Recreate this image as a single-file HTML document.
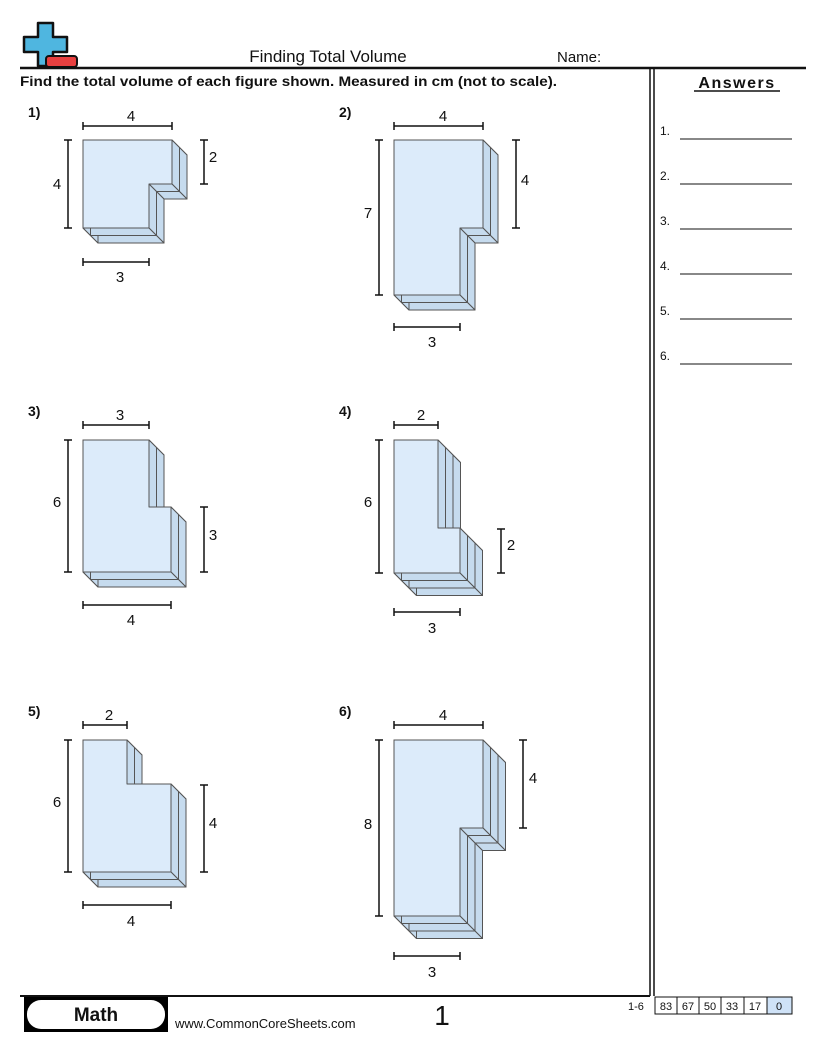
<!DOCTYPE html>
<html><head><meta charset="utf-8"><style>
body{margin:0;background:#fff;}
svg{display:block;}
text{font-family:"Liberation Sans",sans-serif;fill:#111;}
</style></head><body>
<svg id="s" width="816" height="1056" viewBox="0 0 816 1056" xmlns="http://www.w3.org/2000/svg">
<!-- logo -->
<path d="M38,23 h15 v14 h14 v15 h-14 v14 h-15 v-14 h-14 v-15 h14 z" fill="#4fb6e0" stroke="#111" stroke-width="2.5" stroke-linejoin="round"/>
<rect x="46" y="56" width="31" height="11" rx="3" fill="#e84040" stroke="#111" stroke-width="2"/>
<text x="328" y="62" font-size="17" text-anchor="middle" fill="#222">Finding Total Volume</text>
<text x="557" y="62" font-size="15">Name:</text>
<line x1="20" y1="68" x2="806" y2="68" stroke="#111" stroke-width="2.5"/>
<line x1="650" y1="68" x2="650" y2="996" stroke="#111" stroke-width="1.5"/>
<line x1="654" y1="68" x2="654" y2="996" stroke="#111" stroke-width="1.5"/>
<text x="20" y="86" font-size="14" font-weight="bold" textLength="537" lengthAdjust="spacingAndGlyphs">Find the total volume of each figure shown. Measured in cm (not to scale).</text>
<text x="737" y="88" font-size="16" font-weight="bold" text-anchor="middle" letter-spacing="1.5">Answers</text>
<line x1="694" y1="91" x2="780" y2="91" stroke="#111" stroke-width="1.5"/>
<g font-size="12">
<text x="660" y="135">1.</text><line x1="680" y1="139" x2="792" y2="139" stroke="#111"/>
<text x="660" y="180">2.</text><line x1="680" y1="184" x2="792" y2="184" stroke="#111"/>
<text x="660" y="225">3.</text><line x1="680" y1="229" x2="792" y2="229" stroke="#111"/>
<text x="660" y="270">4.</text><line x1="680" y1="274" x2="792" y2="274" stroke="#111"/>
<text x="660" y="315">5.</text><line x1="680" y1="319" x2="792" y2="319" stroke="#111"/>
<text x="660" y="360">6.</text><line x1="680" y1="364" x2="792" y2="364" stroke="#111"/>
</g>
<g font-size="14" font-weight="bold">
<text x="28" y="117">1)</text><text x="339" y="117">2)</text>
<text x="28" y="416">3)</text><text x="339" y="416">4)</text>
<text x="28" y="716">5)</text><text x="339" y="716">6)</text>
</g>
<g id="shapes"></g>
<g stroke="#111" stroke-width="1.5" fill="none" id="dims"></g>
<g font-size="15" text-anchor="middle">
<text x="131" y="121">4</text><text x="57" y="189">4</text><text x="213" y="162">2</text><text x="120" y="282">3</text>
<text x="443" y="121">4</text><text x="368" y="218">7</text><text x="525" y="185">4</text><text x="432" y="347">3</text>
<text x="120" y="420">3</text><text x="57" y="507">6</text><text x="213" y="540">3</text><text x="131" y="625">4</text>
<text x="421" y="420">2</text><text x="368" y="507">6</text><text x="511" y="550">2</text><text x="432" y="633">3</text>
<text x="109" y="720">2</text><text x="57" y="807">6</text><text x="213" y="828">4</text><text x="131" y="926">4</text>
<text x="443" y="720">4</text><text x="368" y="829">8</text><text x="533" y="783">4</text><text x="432" y="977">3</text>
</g>
<!-- footer -->
<line x1="20" y1="996" x2="650" y2="996" stroke="#111" stroke-width="2"/>
<rect x="24" y="997" width="144" height="35" fill="#000"/>
<rect x="27" y="1000" width="138" height="29" rx="14" fill="#fff"/>
<text x="96" y="1021" font-size="19" font-weight="bold" text-anchor="middle">Math</text>
<text x="175" y="1028" font-size="13">www.CommonCoreSheets.com</text>
<text x="442" y="1025" font-size="28" text-anchor="middle">1</text>
<text x="628" y="1010" font-size="11">1-6</text>
<g font-size="11" text-anchor="middle">
<rect x="655" y="997" width="22" height="17" fill="#fff" stroke="#111"/><text x="666" y="1010">83</text>
<rect x="677" y="997" width="22" height="17" fill="#fff" stroke="#111"/><text x="688" y="1010">67</text>
<rect x="699" y="997" width="22" height="17" fill="#fff" stroke="#111"/><text x="710" y="1010">50</text>
<rect x="721" y="997" width="23" height="17" fill="#fff" stroke="#111"/><text x="732" y="1010">33</text>
<rect x="744" y="997" width="23" height="17" fill="#fff" stroke="#111"/><text x="755" y="1010">17</text>
<rect x="767" y="997" width="25" height="17" fill="#cfe2f7" stroke="#111"/><text x="779" y="1010">0</text>
</g>
</svg>
<script>
(function(){
var NS="http://www.w3.org/2000/svg",g=document.getElementById("shapes"),dg=document.getElementById("dims");
function poly(pts,fill,sw){var p=document.createElementNS(NS,"polygon");p.setAttribute("points",pts.map(function(a){return a[0]+","+a[1]}).join(" "));p.setAttribute("fill",fill);p.setAttribute("stroke","#555");p.setAttribute("stroke-width",sw||1);p.setAttribute("stroke-linejoin","round");g.appendChild(p);}
function fig(P,L){var d=7.5,off=function(k){return P.map(function(a){return[a[0]+k*d,a[1]+k*d]})};
for(var k=L;k>=1;k--){var A=off(k),B=off(k-1);poly(A,"#c6dbee");
for(var i=0;i<P.length;i++){var j=(i+1)%P.length;poly([B[i],B[j],A[j],A[i]],"#c6dbee");}}
poly(P,"#dcebfa");}
function lowR(x0,y0,R,ny,nx,b){return[[x0,y0],[R,y0],[R,ny],[nx,ny],[nx,b],[x0,b]];}
function upR(x0,y0,nx,ny,R,b){return[[x0,y0],[nx,y0],[nx,ny],[R,ny],[R,b],[x0,b]];}
fig(lowR(83,140,172,184,149,228),2);
fig(lowR(394,140,483,228,460,295),2);
fig(upR(83,440,149,507,171,572),2);
fig(upR(394,440,438,528,460,573),3);
fig(upR(83,740,127,784,171,872),2);
fig(lowR(394,740,483,828,460,916),3);
function h(x1,x2,y){var p=document.createElementNS(NS,"path");p.setAttribute("d","M"+x1+","+y+"H"+x2+"M"+x1+","+(y-4)+"v8M"+x2+","+(y-4)+"v8");dg.appendChild(p);}
function v(x,y1,y2){var p=document.createElementNS(NS,"path");p.setAttribute("d","M"+x+","+y1+"V"+y2+"M"+(x-4)+","+y1+"h8M"+(x-4)+","+y2+"h8");dg.appendChild(p);}
h(83,172,126);v(68,140,228);v(204,140,184);h(83,149,262);
h(394,483,126);v(379,140,295);v(516,140,228);h(394,460,327);
h(83,149,425);v(68,440,572);v(204,507,572);h(83,171,605);
h(394,438,425);v(379,440,573);v(501,529,573);h(394,460,612);
h(83,127,725);v(68,740,872);v(204,785,872);h(83,171,905);
h(394,483,725);v(379,740,916);v(523,740,828);h(394,460,956);
})();
</script>
</body></html>
